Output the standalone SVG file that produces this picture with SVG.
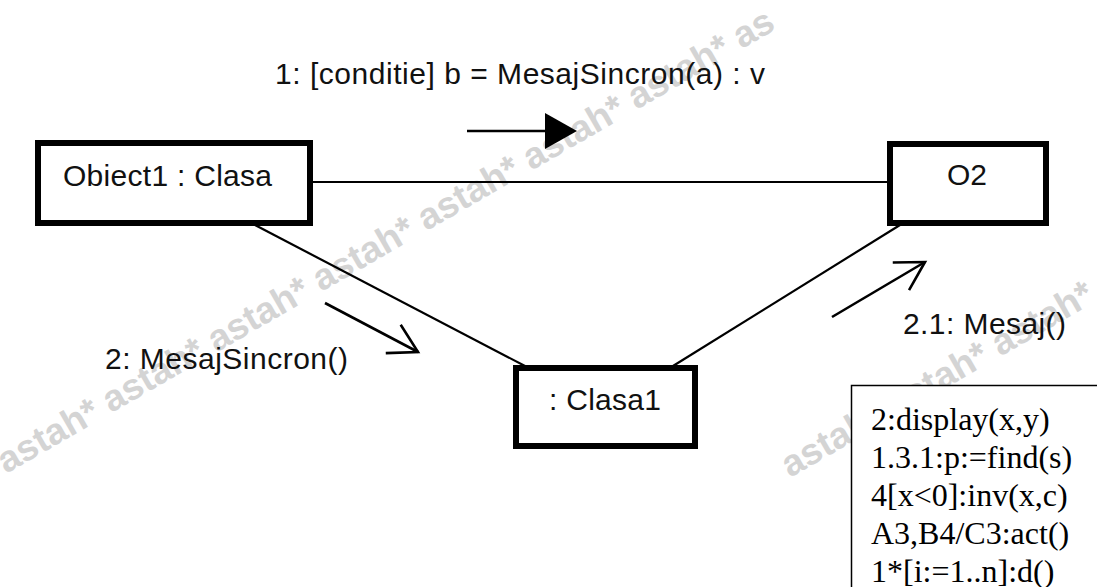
<svg xmlns="http://www.w3.org/2000/svg" width="1097" height="587" viewBox="0 0 1097 587">
<style>
.wm{font-family:"Liberation Sans",Arial,sans-serif;font-size:37px;font-weight:bold;fill:#d4d4d4}
.box{fill:#fff;stroke:#000;stroke-width:6}
.lbl{font-family:"Liberation Sans",Arial,sans-serif;font-size:30px;fill:#111}
.link{stroke:#000;stroke-width:2.2;fill:none}
.msg{stroke:#000;stroke-width:2.6;fill:none}
.note{font-family:"Liberation Serif","Times New Roman",serif;font-size:32px;fill:#000}
</style>
<defs>
<marker id="open" markerUnits="userSpaceOnUse" markerWidth="40" markerHeight="40" refX="0" refY="0" orient="auto" overflow="visible">
<path d="M-28,-16 L0,0 L-28,16" fill="none" stroke="#000" stroke-width="2.6"/>
</marker>
<marker id="filled" markerUnits="userSpaceOnUse" markerWidth="40" markerHeight="40" refX="-17" refY="0" orient="auto" overflow="visible">
<path d="M-32,-18 L0,0 L-32,18 Z" fill="#000"/>
</marker>
</defs>
<rect width="1097" height="587" fill="#fff"/>
<g id="watermark">
<text class="wm" transform="translate(6,474) rotate(-30)">astah* astah* astah* astah* astah* astah* astah* as</text>
<text class="wm" transform="translate(790,478) rotate(-30)">astah* astah* astah* as</text>
</g>
<g id="connectors">
<line class="link" x1="313" y1="182" x2="887" y2="182"/>
<line class="link" x1="255" y1="225" x2="525" y2="366"/>
<line class="link" x1="673" y1="366" x2="900" y2="225"/>
<line class="msg" x1="467" y1="131" x2="560" y2="131" marker-end="url(#filled)"/>
<line class="msg" x1="325" y1="303" x2="418" y2="352" marker-end="url(#open)"/>
<line class="msg" x1="832" y1="317" x2="925" y2="262" marker-end="url(#open)"/>
<text class="lbl" x="275" y="84" textLength="490" lengthAdjust="spacing">1: [conditie] b = MesajSincron(a) : v</text>
<text class="lbl" x="105" y="369" textLength="243" lengthAdjust="spacing">2: MesajSincron()</text>
<text class="lbl" x="903" y="334" textLength="163" lengthAdjust="spacing">2.1: Mesaj()</text>
</g>
<g id="obiect1">
<rect class="box" x="38" y="143" width="272" height="80"/>
<text class="lbl" x="63" y="186" textLength="209" lengthAdjust="spacing">Obiect1 : Clasa</text>
</g>
<g id="o2">
<rect class="box" x="890" y="144" width="156" height="79"/>
<text class="lbl" x="967" y="185" text-anchor="middle">O2</text>
</g>
<g id="clasa1">
<rect class="box" x="516" y="368" width="179" height="78"/>
<text class="lbl" x="549" y="410" textLength="112" lengthAdjust="spacing">: Clasa1</text>
</g>
<g id="note">
<rect x="851.5" y="385.5" width="260" height="220" fill="#fff" stroke="#000" stroke-width="1.5"/>
<text class="note" x="871" y="430">2:display(x,y)</text>
<text class="note" x="871" y="468">1.3.1:p:=find(s)</text>
<text class="note" x="871" y="506">4[x&lt;0]:inv(x,c)</text>
<text class="note" x="871" y="544">A3,B4/C3:act()</text>
<text class="note" x="871" y="582">1*[i:=1..n]:d()</text>
</g>
</svg>
